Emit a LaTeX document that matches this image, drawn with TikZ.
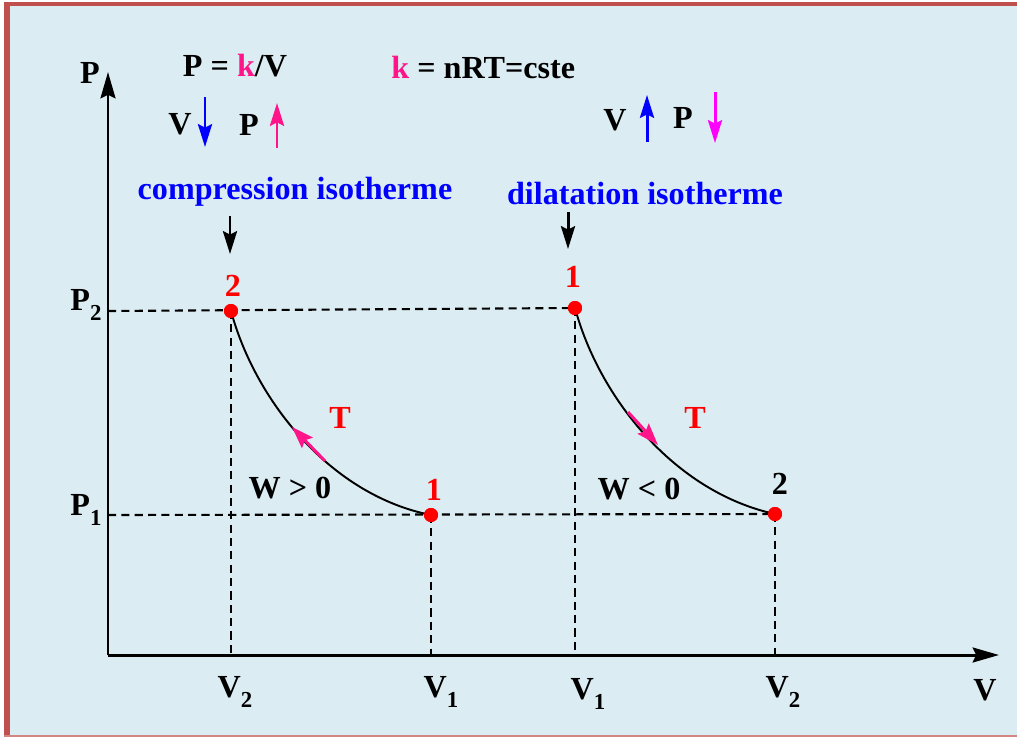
\documentclass[tikz,border=0pt]{standalone}
\usepackage{fontspec}
\setmainfont{Liberation Serif}
\usetikzlibrary{arrows.meta}
\definecolor{bgblue}{HTML}{DBEDF3}
\definecolor{framec}{HTML}{C0504D}
\definecolor{dpink}{HTML}{FF1489}
\definecolor{magc}{HTML}{FF00FF}
\definecolor{txtblue}{HTML}{0000FF}
\newcommand{\mysub}[1]{\raisebox{-0.32em}{\fontsize{13}{14}\selectfont #1}}
\begin{document}
\begin{tikzpicture}[x=0.02cm,y=-0.02cm,
  lbl/.style={font=\fontsize{18.3}{21}\selectfont\bfseries, inner sep=0pt, text=black},
  bluelbl/.style={lbl, text=txtblue},
  redlbl/.style={lbl, text=red},
  axisline/.style={line width=1.7pt, -{Stealth[length=15pt,width=8.5pt,inset=2pt]}},
  guide/.style={line width=1.2pt, dash pattern=on 4.6pt off 3pt},
  isocurve/.style={line width=1.1pt},
  dot/.style={circle, fill=red, minimum size=8pt, inner sep=0pt},
  smallarrow/.style={line width=1.7pt, -{Stealth[length=13pt,width=8pt,inset=2pt]}},
  tarrow/.style={line width=1.7pt, dpink, -{Stealth[length=12.5pt,width=8.5pt,inset=2pt]}}
]
\useasboundingbox (0,0) rectangle (1017,737);
% frame and background
\fill[white] (0,0) rectangle (1017,737);
\fill[bgblue] (4,2) rectangle (1017,736);
\fill[framec] (4,2) rectangle (10,736);
\fill[framec] (4,2) rectangle (1017,6);
\fill[framec!70] (4,735) rectangle (1017,736.5);

% axes
\coordinate (O) at (108,655);
\coordinate (Ytip) at (108,72);
\coordinate (Xtip) at (999,655);
\draw[axisline] (O) -- (Ytip);
\draw[axisline] (O) -- (Xtip);
\node[lbl] (Plab) at (90,73) {P};
\node[lbl] (Vlab) at (985,690) {V};

% points
\node[dot] (L2) at (231,311) {};
\node[dot] (L1) at (431,515) {};
\node[dot] (R1) at (575,308) {};
\node[dot] (R2) at (775,514) {};

% guide lines
\coordinate (P2a) at (108,311);
\coordinate (P1a) at (108,515);
\draw[guide] (P2a) -- (R1.center);
\draw[guide] (P1a) -- (R2.center);
\draw[guide] (L2.center) -- (L2 |- O);
\draw[guide] (L1.center) -- (L1 |- O);
\draw[guide] (R1.center) -- (R1 |- O);
\draw[guide] (R2.center) -- (R2 |- O);

% isotherm curves
\draw[isocurve] (L2.center) .. controls (255,400) and (330,495) .. (L1.center);
\draw[isocurve] (R1.center) .. controls (599,397) and (674,492) .. (R2.center);
\node[dot] at (L2) {};
\node[dot] at (L1) {};
\node[dot] at (R1) {};
\node[dot] at (R2) {};

% tangent arrows
\coordinate (ta1) at (325,461);
\coordinate (tb1) at (292,427);
\coordinate (ta2) at (628,412);
\coordinate (tb2) at (658,445);
\draw[tarrow] (ta1) -- (tb1);
\draw[tarrow] (ta2) -- (tb2);

% axis tick labels
\node[lbl] (P2lab) at (86,305) {P\mysub{2}};
\node[lbl] (P1lab) at (86,510) {P\mysub{1}};
\node[lbl] (V2a) at (235,692) {V\mysub{2}};
\node[lbl] (V1a) at (441,692) {V\mysub{1}};
\node[lbl] (V1b) at (588,694) {V\mysub{1}};
\node[lbl] (V2b) at (783,692) {V\mysub{2}};

% point labels
\node[redlbl] (n2l) at (233,286) {2};
\node[redlbl] (n1l) at (434,490) {1};
\node[redlbl] (n1r) at (573,277) {1};
\node[lbl] (n2r) at (780,484) {2};

% T and W labels
\node[redlbl] (T1) at (340,418) {T};
\node[redlbl] (T2) at (695,418) {T};
\node[lbl] (W1) at (290,488) {W > 0};
\node[lbl] (W2) at (639,489) {W < 0};

% top formulas
\node[lbl] (f1) at (235,66) {P = \textcolor{dpink}{k}/V};
\node[lbl, anchor=west] (f2) at (391,68) {\textcolor{dpink}{k} = nRT=cste};

\node[lbl] (Vl) at (180,124) {V};
\node[lbl] (Pl) at (249,125) {P};
\coordinate (va1) at (205,97);  \coordinate (vb1) at (205,147);
\coordinate (pa1) at (277,148); \coordinate (pb1) at (277,103);
\draw[smallarrow, txtblue] (va1) -- (vb1);
\draw[smallarrow, dpink] (pa1) -- (pb1);

\node[lbl] (Vr) at (615,120) {V};
\node[lbl] (Pr) at (683,118) {P};
\coordinate (va2) at (647,142); \coordinate (vb2) at (647,95);
\coordinate (pa2) at (715,92);  \coordinate (pb2) at (715,143);
\draw[smallarrow, txtblue] (va2) -- (vb2);
\draw[smallarrow, magc] (pa2) -- (pb2);

% titles
\node[bluelbl] (comp) at (295,192) {compression isotherme};
\node[bluelbl] (dila) at (645,193) {dilatation isotherme};
\coordinate (ca) at (230,216); \coordinate (cb) at (230,254);
\coordinate (da) at (568,212); \coordinate (db) at (568,249);
\draw[smallarrow] (ca) -- (cb);
\draw[smallarrow] (da) -- (db);
\end{tikzpicture}
\end{document}
